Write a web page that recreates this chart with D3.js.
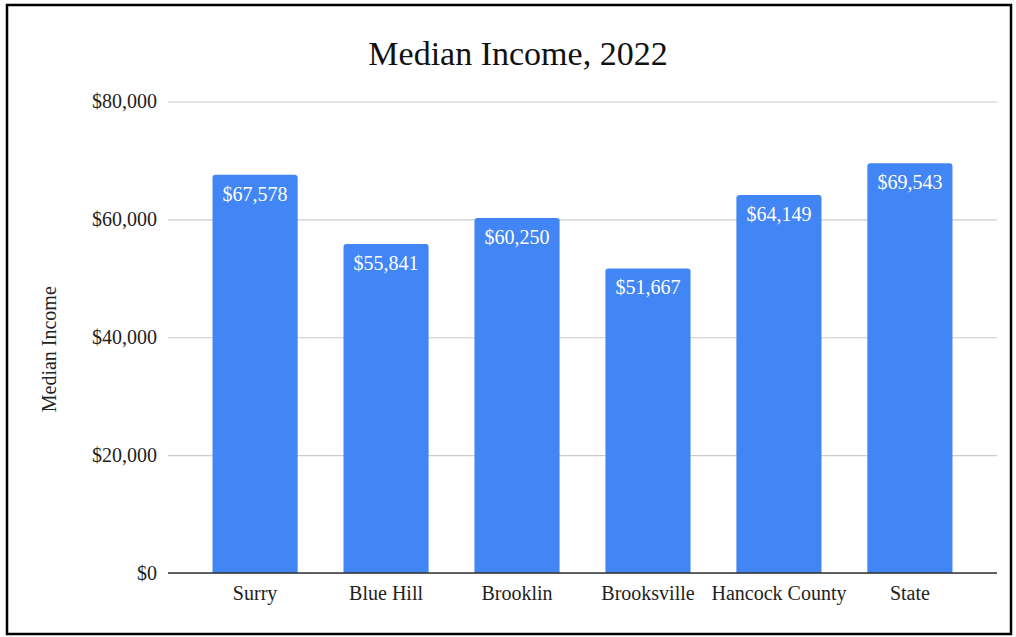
<!DOCTYPE html>
<html>
<head>
<meta charset="utf-8">
<script src="https://cdn.jsdelivr.net/npm/d3@7"></script>
<style>
  html, body { margin: 0; padding: 0; background: #fff; }
  svg { display: block; }
  text { font-family: "Liberation Serif", "Times New Roman", serif; }
</style>
</head>
<body>
<svg id="chart" width="1016" height="637"></svg>
<script>
// Median household income by place, 2022
const places = ["Surry", "Blue Hill", "Brooklin", "Brooksville", "Hancock County", "State"];
const incomes = [67578, 55841, 60250, 51667, 64149, 69543];
const yTicks = [0, 20000, 40000, 60000, 80000];

const svg = d3.select("#chart");

// outer frame
svg.append("rect")
  .attr("x", 7).attr("y", 5)
  .attr("width", 1004).attr("height", 629)
  .attr("fill", "#fff")
  .attr("stroke", "#000")
  .attr("stroke-width", 2.5);

const plot = { left: 168, right: 997, top: 101.5, bottom: 573 };

const x = d3.scaleBand()
  .domain(places)
  .range([plot.left, plot.right])
  .paddingInner(0.35)
  .paddingOuter(0.34);

const y = d3.scaleLinear()
  .domain([0, 80000])
  .range([plot.bottom, plot.top]);

const money = d3.format("$,");

// gridlines + y tick labels
const yAxis = d3.axisLeft(y)
  .tickValues(yTicks)
  .tickFormat(money)
  .tickSize(-(plot.right - plot.left))
  .tickPadding(11);

const gy = svg.append("g")
  .attr("transform", `translate(${plot.left},0)`)
  .call(yAxis);
gy.select(".domain").remove();
gy.selectAll(".tick line").attr("stroke", "#cccccc").attr("stroke-width", 1.2);
gy.selectAll(".tick text")
  .attr("fill", "#222")
  .style("font-size", "20px")
  .style("font-family", "'Liberation Serif', serif");

// bars with rounded top corners
function barPath(x0, y0, w, h, r) {
  r = Math.min(r, h, w / 2);
  return `M${x0},${y0 + h}V${y0 + r}Q${x0},${y0} ${x0 + r},${y0}` +
         `H${x0 + w - r}Q${x0 + w},${y0} ${x0 + w},${y0 + r}V${y0 + h}Z`;
}

const data = places.map((p, i) => ({ place: p, value: incomes[i] }));

svg.append("g").selectAll("path")
  .data(data)
  .join("path")
  .attr("d", d => barPath(x(d.place), y(d.value), x.bandwidth(), y(0) - y(d.value), 3))
  .attr("fill", "#4285f4");

// value labels inside bars
svg.append("g").selectAll("text")
  .data(data)
  .join("text")
  .attr("x", d => x(d.place) + x.bandwidth() / 2)
  .attr("y", d => y(d.value) + 26)
  .attr("text-anchor", "middle")
  .attr("fill", "#fff")
  .style("font-size", "20px")
  .text(d => money(d.value));

// category labels
const xAxis = d3.axisBottom(x).tickSize(0).tickPadding(13);
const gx = svg.append("g")
  .attr("transform", `translate(0,${plot.bottom})`)
  .call(xAxis);
gx.select(".domain").remove();
gx.selectAll(".tick text")
  .attr("fill", "#222")
  .style("font-size", "20px")
  .style("font-family", "'Liberation Serif', serif");

// baseline
svg.append("line")
  .attr("x1", plot.left).attr("x2", plot.right)
  .attr("y1", plot.bottom).attr("y2", plot.bottom)
  .attr("stroke", "#333").attr("stroke-width", 1.5);

// title
svg.append("text")
  .attr("x", 518).attr("y", 65)
  .attr("text-anchor", "middle")
  .attr("fill", "#111")
  .style("font-size", "34px")
  .text("Median Income, 2022");

// y axis title
svg.append("text")
  .attr("transform", `translate(56,${(plot.top + plot.bottom) / 2 + 12}) rotate(-90)`)
  .attr("text-anchor", "middle")
  .attr("fill", "#222")
  .style("font-size", "20px")
  .text("Median Income");
</script>
</body>
</html>
